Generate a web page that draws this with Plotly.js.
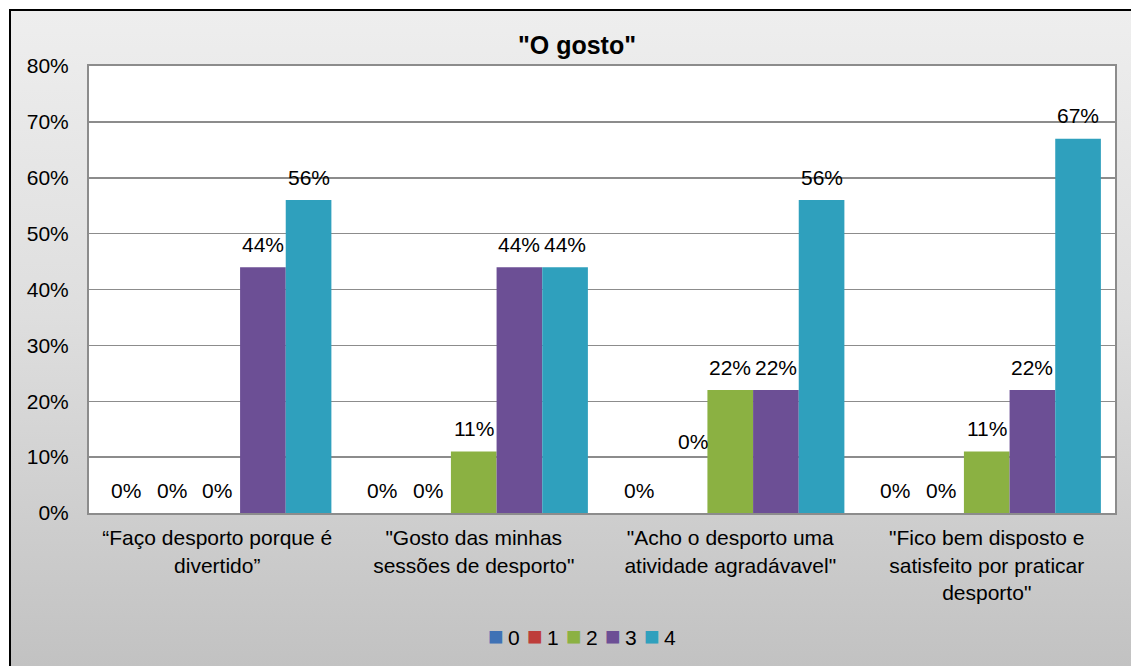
<!DOCTYPE html>
<html>
<head>
<meta charset="utf-8">
<script src="https://cdn.plot.ly/plotly-3.0.1.min.js"></script>
<style>
html,body{margin:0;padding:0;width:1131px;height:666px;overflow:hidden;background:#fff;}
#frame{position:absolute;left:9px;top:9px;width:1140px;height:680px;border-left:2px solid #000;border-top:2px solid #000;
background:linear-gradient(to bottom,#eeeeee 0%,#dedede 45%,#c0c0c0 100%);}
#chart{position:absolute;left:0;top:0;width:1131px;height:666px;}
</style>
</head>
<body>
<div id="frame"></div>
<div id="chart"></div>
<script>
const categories = [
  "“Faço desporto porque é<br>divertido”",
  "\"Gosto das minhas<br>sessões de desporto\"",
  "\"Acho o desporto uma<br>atividade agradávavel\"",
  "\"Fico bem disposto e<br>satisfeito por praticar<br>desporto\""
];
const seriesNames = ["0", "1", "2", "3", "4"];
const s0 = [0, 0, 0, 0];
const s1 = [0, 0, 0, 0];
const s2 = [0, 11, 22, 11];
const s3 = [44, 44, 22, 22];
const s4 = [56, 44, 56, 67];
const seriesValues = [s0, s1, s2, s3, s4];
const colors = ["#3f72b5", "#be3d3a", "#8bb142", "#6c4f95", "#2fa0bd"];
const bargap = 0.11;
const FONT = "Liberation Sans, Arial, sans-serif";

const traces = seriesValues.map((vals, i) => ({
  type: "bar",
  name: seriesNames[i],
  x: categories,
  y: vals,
  marker: {color: colors[i], line: {width: 0}},
  hoverinfo: "skip",
  showlegend: false
}));

const n = seriesValues.length;
const bw = (1 - bargap) / n;
const annotations = [];
seriesValues.forEach((vals, i) => {
  vals.forEach((v, j) => {
    let xs = 0, ys = 23;
    // the label of series "1" in the third category sits higher in the original
    if (i === 1 && j === 2) { xs = 8; ys = 72; }
    annotations.push({
      x: j + (i - (n - 1) / 2) * bw, y: v, xref: "x", yref: "y",
      text: v + "%", showarrow: false, xshift: xs, yshift: ys,
      yanchor: "middle", xanchor: "center",
      font: {family: FONT, size: 21, color: "#000"}
    });
  });
});

// legend (compact, Excel-like): coloured square + series name
const plotL = 89, plotW = 1026, plotB = 513, plotH = 447;
seriesNames.forEach((name, i) => {
  annotations.push({
    xref: "paper", yref: "paper",
    x: (486 + 39 * i - plotL) / plotW, y: (plotB - 636) / plotH,
    xanchor: "left", yanchor: "middle", showarrow: false,
    text: '<span style="color:' + colors[i] + ';font-size:26px">■</span>\u2009' + name,
    font: {family: FONT, size: 21, color: "#000"}
  });
});

const layout = {
  width: 1131, height: 666,
  paper_bgcolor: "rgba(0,0,0,0)",
  plot_bgcolor: "#ffffff",
  margin: {l: 89, r: 16, t: 66, b: 153},
  barmode: "group",
  bargap: bargap,
  bargroupgap: 0,
  font: {family: FONT, size: 20, color: "#000"},
  title: {text: "<b>\"O gosto\"</b>", x: 577 / 1131, xref: "container", xanchor: "center",
          y: 1 - 45 / 666, yref: "container", yanchor: "middle",
          font: {family: FONT, size: 25, color: "#000"}},
  xaxis: {
    type: "category",
    showline: true, mirror: true, linecolor: "#8c8c8c", linewidth: 2,
    showgrid: false, ticks: "", ticklabelstandoff: 5,
    tickfont: {size: 21, color: "#000"},
    fixedrange: true
  },
  yaxis: {
    range: [0, 80], dtick: 10, ticksuffix: "%",
    showline: true, mirror: true, linecolor: "#8c8c8c", linewidth: 2,
    gridcolor: "#8c8c8c", gridwidth: 1.5, zeroline: false,
    ticks: "", ticklabelstandoff: 14,
    tickfont: {size: 21, color: "#000"}, fixedrange: true
  },
  showlegend: false,
  annotations: annotations
};

Plotly.newPlot("chart", traces, layout, {displayModeBar: false, staticPlot: true});
</script>
</body>
</html>
